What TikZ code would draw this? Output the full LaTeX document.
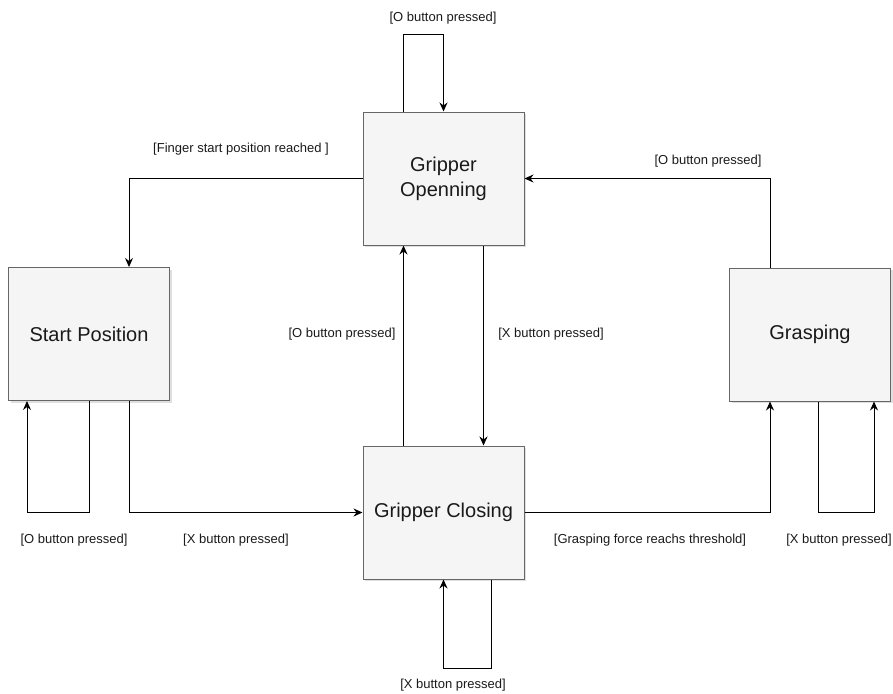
\documentclass[tikz,border=0pt]{standalone}
\usepackage{fontspec}
\setmainfont{Liberation Sans}
\usetikzlibrary{arrows.meta,calc,shadows}
\definecolor{boxfill}{HTML}{F5F5F5}
\definecolor{boxline}{HTML}{666666}
\definecolor{txt}{HTML}{1A1A1A}
\tikzset{
  state/.style={draw=boxline,fill=boxfill,line width=1pt,minimum width=161pt,minimum height=133pt,inner sep=0pt,align=center,text=txt,font=\fontsize{20}{25}\selectfont,drop shadow={opacity=0.25,shadow xshift=2pt,shadow yshift=-2pt}},
  arr/.style={draw=black,line width=1pt,-{Stealth[length=9pt,width=8pt,inset=3pt]}},
  lbl/.style={inner sep=0pt,text=txt,font=\fontsize{13}{15}\selectfont}
}
\begin{document}
\begin{tikzpicture}[x=1pt,y=-1pt]
\useasboundingbox (0,0) rectangle (893,693);
\node[state] (O) at (443.5,178.5) {Gripper\\Openning};
\node[state] (S) at (89,334) {Start Position};
\node[state] (G) at (810,334.5) {Grasping};
\node[state] (C) at (443.5,512.5) {Gripper Closing};
% connectors
\draw[arr] ($(O.north)+(-40,0)$) -- ++(0,-77) -| (O.north);
\draw[arr] (O.west) -| ($(S.north)+(40,0)$);
\draw[arr] ($(G.north)+(-40,0)$) |- (O.east);
\draw[arr] ($(C.north)+(-40,0)$) -- ($(O.south)+(-40,0)$);
\draw[arr] ($(O.south)+(40,0)$) -- ($(C.north)+(40,0)$);
\draw[arr] (S.south) -- ++(0,111) -| ($(S.south)+(-62,0)$);
\draw[arr] ($(S.south)+(40,0)$) |- (C.west);
\draw[arr] (C.east) -| ($(G.south)+(-40,0)$);
\draw[arr] ($(G.south)+(8,0)$) -- ++(0,111) -| ($(G.south)+(64,0)$);
\draw[arr] ($(C.south)+(48,0)$) -- ++(0,89) -| (C.south);
% labels
\node[lbl] (l1) at (443,18) {[O button pressed]};
\node[lbl] (l2) at (241,149) {[Finger start position reached ]};
\node[lbl] (l3) at (708,161) {[O button pressed]};
\node[lbl] (l4) at (342,334) {[O button pressed]};
\node[lbl] (l5) at (551,334) {[X button pressed]};
\node[lbl] (l6) at (74,540) {[O button pressed]};
\node[lbl] (l7) at (236,540) {[X button pressed]};
\node[lbl] (l8) at (650,540) {[Grasping force reachs threshold]};
\node[lbl] (l9) at (839,540) {[X button pressed]};
\node[lbl] (l10) at (453,685) {[X button pressed]};
\end{tikzpicture}
\end{document}
